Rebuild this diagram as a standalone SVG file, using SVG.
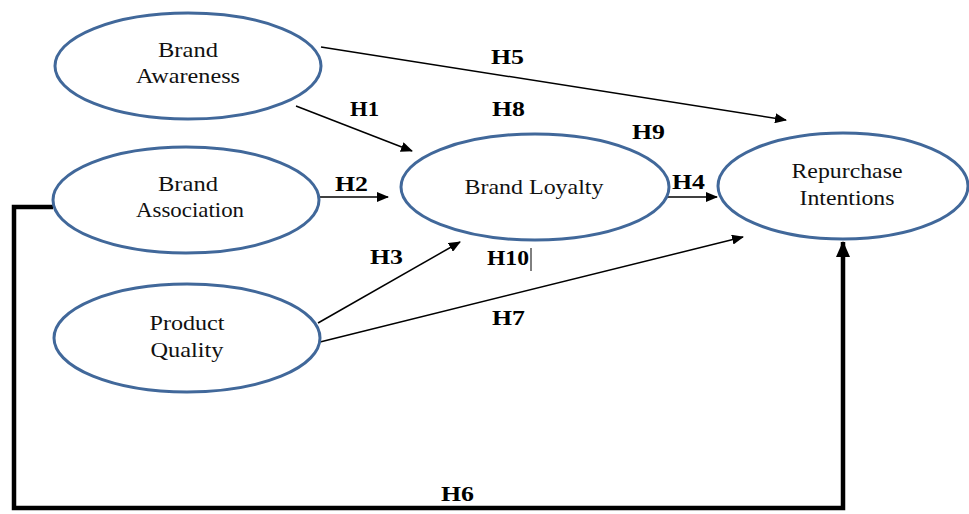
<svg xmlns="http://www.w3.org/2000/svg" width="969" height="514" viewBox="0 0 969 514">
<defs>
<marker id="ah" markerWidth="12" markerHeight="10" refX="11" refY="5" orient="auto" markerUnits="userSpaceOnUse">
<path d="M0,0 L12,5 L0,10 z" fill="#000"/>
</marker>
<marker id="ahb" markerWidth="16" markerHeight="14" refX="15" refY="7" orient="auto" markerUnits="userSpaceOnUse">
<path d="M0,0 L16,7 L0,14 z" fill="#000"/>
</marker>
<style>
.node ellipse{fill:#fff;stroke:#41689a;stroke-width:3}
.nt{font-family:'Liberation Serif','DejaVu Serif',serif;font-size:21px;fill:#111;text-anchor:middle}
.lbl{font-family:'Liberation Serif','DejaVu Serif',serif;font-size:20px;font-weight:bold;fill:#000}
.c{stroke:#000;stroke-width:1.5;fill:none}
.thick{stroke:#000;stroke-width:4.5;fill:none}
</style>
</defs>
<rect width="969" height="514" fill="#fff"/>
<g id="connectors">
<line class="c" x1="321" y1="47" x2="786" y2="120" marker-end="url(#ah)"/>
<line class="c" x1="296" y1="106" x2="412" y2="151" marker-end="url(#ah)"/>
<line class="c" x1="320" y1="197" x2="388" y2="197" marker-end="url(#ah)"/>
<line class="c" x1="666" y1="197" x2="717" y2="197" marker-end="url(#ah)"/>
<line class="c" x1="318" y1="323" x2="460" y2="242" marker-end="url(#ah)"/>
<line class="c" x1="320" y1="342" x2="743" y2="237" marker-end="url(#ah)"/>
<polyline class="thick" points="53,207 14,207 14,508 843,508 843,242" marker-end="url(#ahb)"/>
<line x1="531" y1="248" x2="531" y2="271" stroke="#000" stroke-width="1"/>
<text class="lbl" x="491" y="64" textLength="33" lengthAdjust="spacingAndGlyphs">H5</text>
<text class="lbl" x="350" y="116" textLength="29" lengthAdjust="spacingAndGlyphs">H1</text>
<text class="lbl" x="492" y="116" textLength="33" lengthAdjust="spacingAndGlyphs">H8</text>
<text class="lbl" x="632" y="139" textLength="33" lengthAdjust="spacingAndGlyphs">H9</text>
<text class="lbl" x="335" y="191" textLength="33" lengthAdjust="spacingAndGlyphs">H2</text>
<text class="lbl" x="672" y="189" textLength="33" lengthAdjust="spacingAndGlyphs">H4</text>
<text class="lbl" x="370" y="264" textLength="33" lengthAdjust="spacingAndGlyphs">H3</text>
<text class="lbl" x="487" y="265" textLength="42" lengthAdjust="spacingAndGlyphs">H10</text>
<text class="lbl" x="492" y="325" textLength="33" lengthAdjust="spacingAndGlyphs">H7</text>
<text class="lbl" x="441" y="501" textLength="33" lengthAdjust="spacingAndGlyphs">H6</text>
</g>
<g id="brand-awareness" class="node">
<ellipse cx="188" cy="66" rx="133" ry="53"/>
<text class="nt" x="188" y="57" textLength="60" lengthAdjust="spacingAndGlyphs">Brand</text>
<text class="nt" x="188" y="83" textLength="104" lengthAdjust="spacingAndGlyphs">Awareness</text>
</g>
<g id="brand-association" class="node">
<ellipse cx="186" cy="200" rx="133" ry="53"/>
<text class="nt" x="188" y="191" textLength="60" lengthAdjust="spacingAndGlyphs">Brand</text>
<text class="nt" x="190" y="217" textLength="108" lengthAdjust="spacingAndGlyphs">Association</text>
</g>
<g id="product-quality" class="node">
<ellipse cx="187" cy="338" rx="133" ry="54"/>
<text class="nt" x="187" y="330" textLength="75" lengthAdjust="spacingAndGlyphs">Product</text>
<text class="nt" x="187" y="357" textLength="73" lengthAdjust="spacingAndGlyphs">Quality</text>
</g>
<g id="brand-loyalty" class="node">
<ellipse cx="535" cy="187" rx="134" ry="53"/>
<text class="nt" x="534" y="194" textLength="139" lengthAdjust="spacingAndGlyphs">Brand Loyalty</text>
</g>
<g id="repurchase-intentions" class="node">
<ellipse cx="843" cy="186" rx="125" ry="53"/>
<text class="nt" x="847" y="178" textLength="111" lengthAdjust="spacingAndGlyphs">Repurchase</text>
<text class="nt" x="847" y="205" textLength="95" lengthAdjust="spacingAndGlyphs">Intentions</text>
</g>
</svg>
